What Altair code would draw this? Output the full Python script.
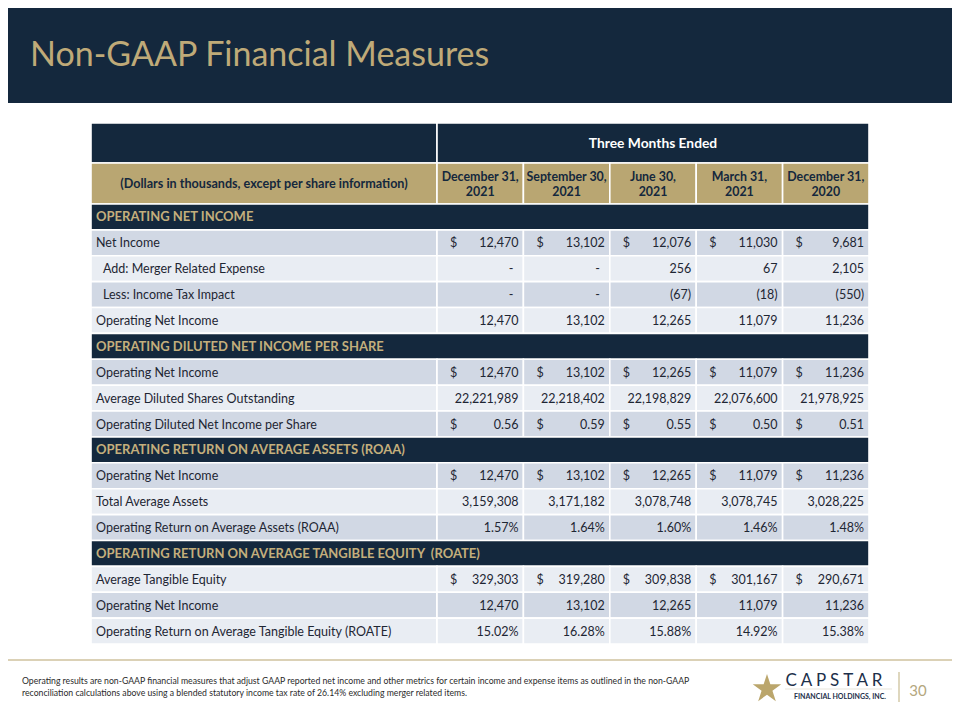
import altair as alt
import pandas as pd

# ---------------- data ----------------
title = "Non-GAAP Financial Measures"
period_line1 = ["December 31,", "September 30,", "June 30,", "March 31,", "December 31,"]
period_line2 = ["2021", "2021", "2021", "2021", "2020"]
header_label = "(Dollars in thousands, except per share information)"
group_label = "Three Months Ended"

sections = [
    "OPERATING NET INCOME",
    "OPERATING DILUTED NET INCOME PER SHARE",
    "OPERATING RETURN ON AVERAGE ASSETS (ROAA)",
    "OPERATING RETURN ON AVERAGE TANGIBLE EQUITY\u00a0 (ROATE)",
]

net_income = [12470, 13102, 12076, 11030, 9681]
merger_expense = [None, None, 256, 67, 2105]
income_tax_impact = [None, None, -67, -18, -550]
operating_net_income = [12470, 13102, 12265, 11079, 11236]
avg_diluted_shares = [22221989, 22218402, 22198829, 22076600, 21978925]
op_diluted_eps = [0.56, 0.59, 0.55, 0.50, 0.51]
total_avg_assets = [3159308, 3171182, 3078748, 3078745, 3028225]
op_roaa = [1.57, 1.64, 1.60, 1.46, 1.48]
avg_tangible_equity = [329303, 319280, 309838, 301167, 290671]
op_roate = [15.02, 16.28, 15.88, 14.92, 15.38]

footnote = [
    "Operating results are non-GAAP financial measures that adjust GAAP reported net income and other metrics for certain income and expense items as outlined in the non-GAAP",
    "reconciliation calculations above using a blended statutory income tax rate of 26.14% excluding merger related items.",
]
page_number = "30"

# (kind, label, values, format, dollar sign, indent, dark stripe)
rows = [
    ("section", sections[0], None, None, False, False, None),
    ("data", "Net Income", net_income, "int", True, False, True),
    ("data", "Add: Merger Related Expense", merger_expense, "int", False, True, False),
    ("data", "Less: Income Tax Impact", income_tax_impact, "int", False, True, True),
    ("data", "Operating Net Income", operating_net_income, "int", False, False, False),
    ("section", sections[1], None, None, False, False, None),
    ("data", "Operating Net Income", operating_net_income, "int", True, False, True),
    ("data", "Average Diluted Shares Outstanding", avg_diluted_shares, "int", False, False, False),
    ("data", "Operating Diluted Net Income per Share", op_diluted_eps, "dec", True, False, True),
    ("section", sections[2], None, None, False, False, None),
    ("data", "Operating Net Income", operating_net_income, "int", True, False, True),
    ("data", "Total Average Assets", total_avg_assets, "int", False, False, False),
    ("data", "Operating Return on Average Assets (ROAA)", op_roaa, "pct", False, False, True),
    ("section", sections[3], None, None, False, False, None),
    ("data", "Average Tangible Equity", avg_tangible_equity, "int", True, False, False),
    ("data", "Operating Net Income", operating_net_income, "int", False, False, True),
    ("data", "Operating Return on Average Tangible Equity (ROATE)", op_roate, "pct", False, False, False),
]


def fmt(v, kind):
    if v is None:
        return "-"
    if kind == "int":
        s = f"{abs(v):,}"
        return f"({s})" if v < 0 else s
    if kind == "dec":
        return f"{v:.2f}"
    return f"{v:.2f}%"


# ---------------- layout ----------------
NAVY = "#14283D"
TAN = "#B9A672"
TAN_TEXT = "#C4AF7C"
DARK_ROW = "#D1D8E4"
LIGHT_ROW = "#E9EDF3"
BODY = "#1E2633"
FS = 12.5

X0, XSPLIT, X1 = 91, 437, 869
CW = (X1 - XSPLIT) / 5
col_edges = [X0, XSPLIT] + [XSPLIT + CW * (i + 1) for i in range(5)]
TOP0, TOP1, HEAD1 = 123, 163, 204
RH = (644 - HEAD1) / len(rows)

rects, texts = [], []


def add_text(x, y, text, color=BODY, size=FS, align="left", weight="normal", baseline="middle"):
    texts.append(dict(x=x, y=y, text=text, color=color, size=size, align=align,
                      weight=weight, baseline=baseline))


# top row
rects.append(dict(x=X0, x2=XSPLIT, y=TOP0, y2=TOP1, fill=NAVY))
rects.append(dict(x=XSPLIT, x2=X1, y=TOP0, y2=TOP1, fill=NAVY))
add_text((XSPLIT + X1) / 2, (TOP0 + TOP1) / 2 + 0.5, group_label, "white", 13.8, "center", "bold")
# header row
for i in range(6):
    rects.append(dict(x=col_edges[i], x2=col_edges[i + 1], y=TOP1, y2=HEAD1, fill=TAN))
add_text((X0 + XSPLIT) / 2, (TOP1 + HEAD1) / 2, header_label, NAVY, 12.6, "center", "bold")
for i in range(5):
    cx = (col_edges[i + 1] + col_edges[i + 2]) / 2
    add_text(cx, 176.5, period_line1[i], NAVY, 12.4, "center", "bold")
    add_text(cx, 191.5, period_line2[i], NAVY, 12.4, "center", "bold")

for r, (kind, label, vals, f, dollar, indent, dark) in enumerate(rows):
    y0 = HEAD1 + r * RH
    y1 = y0 + RH
    yc = (y0 + y1) / 2 + 0.5
    if kind == "section":
        rects.append(dict(x=X0, x2=X1, y=y0, y2=y1, fill=NAVY))
        add_text(X0 + 5, yc, label, TAN_TEXT, 13, "left", "bold")
        continue
    fill = DARK_ROW if dark else LIGHT_ROW
    for i in range(6):
        rects.append(dict(x=col_edges[i], x2=col_edges[i + 1], y=y0, y2=y1, fill=fill))
    add_text(X0 + (12 if indent else 5), yc, label, BODY, FS, "left")
    for i, v in enumerate(vals):
        left, right = col_edges[i + 1], col_edges[i + 2]
        if dollar:
            add_text(left + 13, yc, "$", BODY, FS, "left")
        s = fmt(v, f)
        add_text(right - (10 if s == "-" else 5), yc, s, BODY, FS, "right")

# title / footer texts
add_text(30, 66, title, "#BFAA78", 34, "left", "normal", "alphabetic")
add_text(22, 681, footnote[0], "#2B2B2B", 8.7, "left")
add_text(22, 693, footnote[1], "#2B2B2B", 8.7, "left")
add_text(834, 681, "C A P S T A R", "#1C2F4A", 17, "center", "normal")
add_text(840, 697, "FINANCIAL HOLDINGS, INC.", "#1C2F4A", 7, "center", "bold")
add_text(918, 691, page_number, "#B4A77E", 15, "center", "normal")

rect_df = pd.DataFrame(rects)
text_df = pd.DataFrame(texts)

deco_rects = pd.DataFrame([dict(x=0, x2=960, y=0, y2=103, fill=NAVY)])
rules_df = pd.DataFrame([
    dict(x=0, x2=960, y=660, y2=660, color="#CFC29E", w=1.5),
    dict(x=899, x2=899, y=672, y2=702, color="#C9BC93", w=1.2),
    dict(x=785, x2=892, y=689, y2=689, color="#D9D4C4", w=0.6),
])
star_df = pd.DataFrame([dict(x=767, y=689)])

xs = alt.Scale(domain=[8, 952], range=[0, 944], nice=False, zero=False)
ys = alt.Scale(domain=[8, 712], range=[0, 704], nice=False, zero=False)
X = lambda f="x": alt.X(f"{f}:Q", scale=xs, axis=None)
Y = lambda f="y": alt.Y(f"{f}:Q", scale=ys, axis=None)

band = alt.Chart(deco_rects).mark_rect(strokeWidth=0).encode(
    x=X(), x2="x2:Q", y=Y(), y2="y2:Q", color=alt.Color("fill:N", scale=None))

cells = alt.Chart(rect_df).mark_rect(stroke="white", strokeWidth=1.6).encode(
    x=X(), x2="x2:Q", y=Y(), y2="y2:Q", color=alt.Color("fill:N", scale=None))

rules = alt.Chart(rules_df).mark_rule().encode(
    x=X(), x2="x2:Q", y=Y(), y2="y2:Q",
    color=alt.Color("color:N", scale=None),
    strokeWidth=alt.StrokeWidth("w:Q", scale=None))

star_path = ("M0,-1L0.2245,-0.309L0.951,-0.309L0.363,0.118L0.588,0.809L0,0.382"
             "L-0.588,0.809L-0.363,0.118L-0.951,-0.309L-0.2245,-0.309Z")
star = alt.Chart(star_df).mark_point(shape=star_path, filled=True, size=900, opacity=1).encode(
    x=X(), y=Y(), color=alt.value("#BBA66C"))

layers = [band, cells, rules, star]
for (align, weight, baseline), sub in text_df.groupby(["align", "weight", "baseline"]):
    layers.append(
        alt.Chart(sub).mark_text(align=align, fontWeight=weight, baseline=baseline, font="Lato").encode(
            x=X(), y=Y(), text="text:N",
            color=alt.Color("color:N", scale=None),
            size=alt.Size("size:Q", scale=None))
    )

chart = alt.layer(*layers).properties(
    width=944, height=704, padding=0,
    autosize=alt.AutoSizeParams(type="none"),
    background="white",
).configure_view(stroke=None)

chart.save("out.html", embed_options={"renderer": "svg", "actions": False})
